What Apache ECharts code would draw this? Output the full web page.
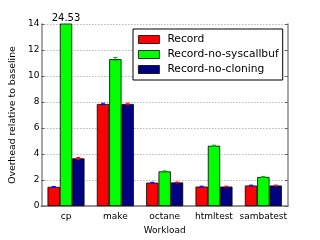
<!DOCTYPE html>
<html><head><meta charset="utf-8">
<script src="https://cdn.jsdelivr.net/npm/echarts@6/dist/echarts.min.js"></script>
<style>html,body{margin:0;padding:0;background:#fff}#c{width:320px;height:240px}</style>
</head><body><div id="c"></div>
<script>
const categories = ['cp', 'make', 'octane', 'htmltest', 'sambatest'];
const seriesNames = ['Record', 'Record-no-syscallbuf', 'Record-no-cloning'];
const record = [1.48, 7.85, 1.80, 1.50, 1.58];
const noSyscallbuf = [24.53, 11.30, 2.67, 4.64, 2.24];
const noCloning = [3.67, 7.85, 1.82, 1.50, 1.58];
const recordErr = [0.03, 0.06, 0.03, 0.03, 0.03];
const noSyscallbufErr = [0.00, 0.12, 0.04, 0.04, 0.04];
const noCloningErr = [0.07, 0.06, 0.03, 0.03, 0.03];
const yTicks = [0, 2, 4, 6, 8, 10, 12, 14];
const colors = ['#ff0000', '#00ff00', '#000080'];
const errColors = ['#0000ff', '#00aa00', '#ff0000'];

const values = [record, noSyscallbuf, noCloning];
const errs = [recordErr, noSyscallbufErr, noCloningErr];
const BW = 0.25;
const font = 'DejaVu Sans';

const chart = echarts.init(document.getElementById('c'));
const barSeries = values.map((v, s) => ({
  name: seriesNames[s], type: 'bar', data: v, barWidth: (BW * 100) + '%', barGap: '0%',
  clip: true,
  itemStyle: { color: colors[s], borderColor: '#000', borderWidth: 0.8 },
  z: 2
}));
barSeries[1].markPoint = {
  symbol: 'rect', symbolSize: 1, itemStyle: { color: 'transparent' },
  data: [{ coord: [categories[0], yTicks[yTicks.length - 1]], value: noSyscallbuf[0] }],
  label: { show: true, position: 'top', distance: 0, formatter: String(noSyscallbuf[0]), fontFamily: font, fontSize: 10, color: '#000' }
};
const errSeries = values.map((v, s) => ({
  type: 'custom', z: 5, silent: true,
  data: v.map((val, i) => [i, Math.min(val, 14), errs[s][i]]),
  renderItem: function (params, api) {
    const i = api.value(0), val = api.value(1), e = api.value(2);
    if (e <= 0) return;
    const band = api.size([1, 0])[0];
    const c = api.coord([i, val]);
    const x = c[0] + (s - 1) * band * BW;
    const y1 = api.coord([i, val + e])[1], y2 = api.coord([i, val - e])[1];
    const cap = 2;
    const st = { stroke: errColors[s], lineWidth: 1 };
    return { type: 'group', children: [
      { type: 'line', shape: { x1: x, y1: y1, x2: x, y2: y2 }, style: st },
      { type: 'line', shape: { x1: x - cap, y1: y1, x2: x + cap, y2: y1 }, style: st },
      { type: 'line', shape: { x1: x - cap, y1: y2, x2: x + cap, y2: y2 }, style: st }
    ]};
  }
}));

const axisLineStyle = { color: '#8a8a8a', width: 1.5 };
chart.setOption({
  animation: false,
  textStyle: { fontFamily: font },
  grid: { left: 40, right: 32, top: 24, bottom: 24 },
  legend: {
    data: seriesNames, orient: 'vertical', left: 133, top: 29, icon: 'rect',
    itemWidth: 21, itemHeight: 8, itemGap: 4,
    padding: [5, 4, 5, 5], borderColor: '#000', borderWidth: 1, backgroundColor: '#fff',
    textStyle: { fontFamily: font, fontSize: 10.7, color: '#000', padding: [0, 0, 0, 3] },
    itemStyle: { borderColor: '#000', borderWidth: 0.8 }
  },
  xAxis: [{
    type: 'category', data: categories, name: 'Workload', nameLocation: 'middle', nameGap: 18,
    nameTextStyle: { fontFamily: font, fontSize: 9, color: '#000' },
    axisLine: { lineStyle: axisLineStyle },
    axisTick: { inside: true, length: 3, lineStyle: { color: '#666' } },
    axisLabel: { interval: 0, fontFamily: font, fontSize: 9, color: '#000', margin: 6 },
    splitLine: { show: false }
  }, {
    type: 'category', data: categories, position: 'top',
    axisLine: { lineStyle: axisLineStyle },
    axisTick: { inside: true, length: 3, lineStyle: { color: '#666' } },
    axisLabel: { show: false }, splitLine: { show: false }
  }],
  yAxis: [{
    type: 'value', min: 0, max: 14, interval: 2,
    name: 'Overhead relative to baseline', nameLocation: 'middle', nameGap: 15, nameRotate: 90,
    nameTextStyle: { fontFamily: font, fontSize: 9.3, color: '#000' },
    axisLine: { show: true, lineStyle: axisLineStyle },
    axisTick: { show: true, inside: true, length: 3, lineStyle: { color: '#666' } },
    axisLabel: { fontFamily: font, fontSize: 9, color: '#000', margin: 2 },
    splitLine: { show: true, lineStyle: { type: [1, 2], color: '#777', width: 0.8 } }
  }, {
    type: 'value', min: 0, max: 14, interval: 2, position: 'right',
    axisLine: { show: true, lineStyle: axisLineStyle },
    axisTick: { show: true, inside: true, length: 3, lineStyle: { color: '#666' } },
    axisLabel: { show: false }, splitLine: { show: false }
  }],
  series: barSeries.concat(errSeries)
});
</script></body></html>
